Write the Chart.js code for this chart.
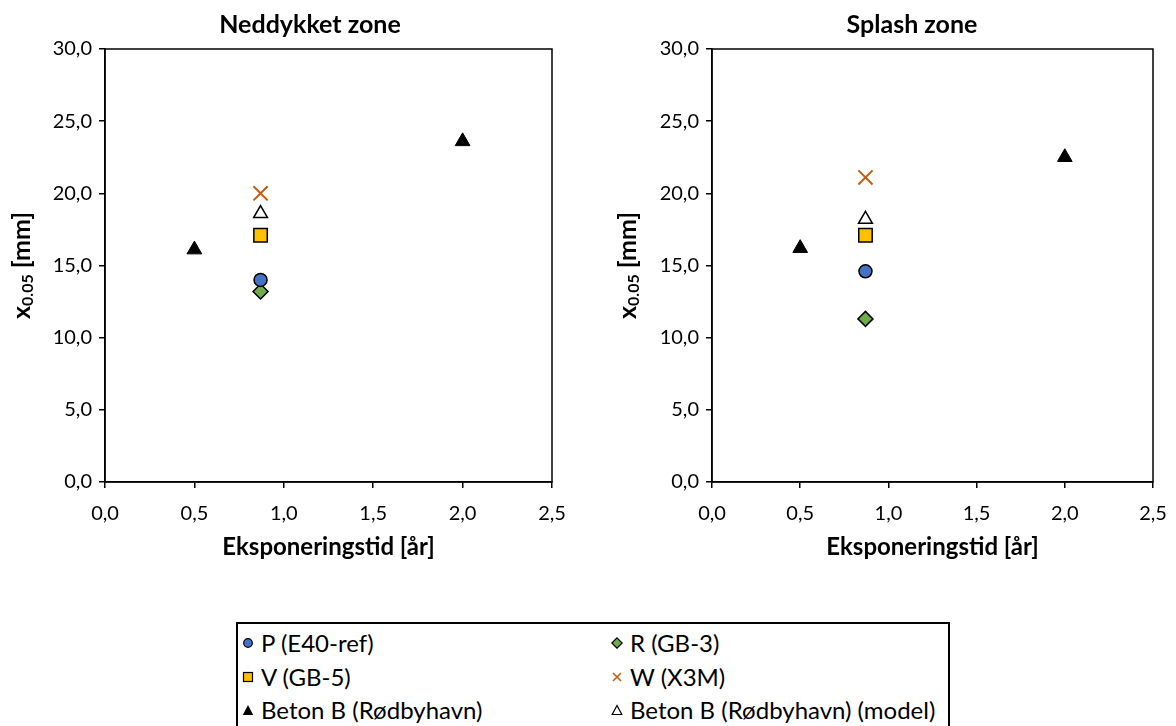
<!DOCTYPE html>
<html>
<head>
<meta charset="utf-8">
<script src="https://cdn.jsdelivr.net/npm/chart.js@4.4.0/dist/chart.umd.min.js"></script>
<style>
  html, body { margin: 0; padding: 0; background: #fff; overflow: hidden; }
  #wrap { position: relative; width: 1176px; height: 726px; overflow: hidden; }
  canvas { position: absolute; top: 0; }
  #venstre { left: 0; }
  #hoyre { left: 604px; }
  #legend { position: absolute; left: 236px; top: 622px; width: 714px; height: 120px;
            border: 2px solid #000; box-sizing: border-box; font-family: Lato, "Open Sans", sans-serif;
            font-size: 24px; color: #000; }
  .item { position: absolute; height: 28px; line-height: 28px; white-space: nowrap; }
  .item svg { position: absolute; left: 0; top: 8px; }
  .item span { position: absolute; left: 19px; }
</style>
</head>
<body>
<div id="wrap">
  <canvas id="venstre" width="620" height="562"></canvas>
  <canvas id="hoyre" width="616" height="562"></canvas>
  <div id="legend"></div>
</div>
<script>
// eksponeringstid [år]
var tidLab = [0.87];
var tidBetonB = [0.5, 2.0];
var tidModel = [0.87];

// x0.05 [mm] - neddykket zone
var nedP = [14.0];
var nedR = [13.2];
var nedV = [17.1];
var nedW = [20.0];
var nedBetonB = [16.1, 23.6];
var nedModel = [18.6];

// x0.05 [mm] - splash zone
var splP = [14.6];
var splR = [11.3];
var splV = [17.1];
var splW = [21.1];
var splBetonB = [16.2, 22.5];
var splModel = [18.2];

var serieNavn = ["P (E40-ref)", "R (GB-3)", "V (GB-5)", "W (X3M)", "Beton B (Rødbyhavn)", "Beton B (Rødbyhavn) (model)"];

var FONT = 'Lato, "Open Sans", sans-serif';

function punkter(xs, ys){
    var out = [];
    for (var i = 0; i < ys.length; i++){
        out.push({x: xs[i], y: ys[i]});
    }
    return out;
}

function fmt(value){
    return Number(value).toFixed(1).replace('.', ',');
}

// ramme rundt plotområdet + y-aksetittel med senket skrift
var rammePlugin = {
    id: 'ramme',
    beforeDatasetsDraw: function(chart){
        var a = chart.chartArea, ctx = chart.ctx;
        ctx.save();
        ctx.strokeStyle = '#000';
        ctx.lineWidth = 1.5;
        ctx.strokeRect(a.left, a.top, a.right - a.left, a.bottom - a.top);
        ctx.restore();
    },
    afterDraw: function(chart){
        var a = chart.chartArea, ctx = chart.ctx;
        var tx = chart.options.yTitleX;
        var cy = (a.top + a.bottom) / 2;
        ctx.save();
        ctx.translate(tx, cy);
        ctx.rotate(-Math.PI / 2);
        ctx.fillStyle = '#000';
        ctx.textBaseline = 'middle';
        var stor = 'bold 25px ' + FONT, liten = 'bold 16px ' + FONT;
        ctx.font = stor; var w1 = ctx.measureText('x').width;
        ctx.font = liten; var w2 = ctx.measureText('0.05').width;
        ctx.font = stor; var w3 = ctx.measureText(' [mm]').width;
        var x0 = -(w1 + w2 + w3) / 2;
        ctx.textAlign = 'left';
        ctx.font = stor; ctx.fillText('x', x0, 0);
        ctx.font = liten; ctx.fillText('0.05', x0 + w1, 6);
        ctx.font = stor; ctx.fillText(' [mm]', x0 + w1 + w2, 0);
        ctx.restore();
    }
};

function lagDatasett(p, r, v, w, b, m){
    return [
        {label: serieNavn[0], data: punkter(tidLab, p), pointStyle: 'circle', pointRadius: 6.5,
         backgroundColor: '#4472C4', borderColor: '#000', pointBorderWidth: 1.5},
        {label: serieNavn[1], data: punkter(tidLab, r), pointStyle: 'rectRot', pointRadius: 7.5,
         backgroundColor: '#70AD47', borderColor: '#000', pointBorderWidth: 1.5},
        {label: serieNavn[2], data: punkter(tidLab, v), pointStyle: 'rect', pointRadius: 9.5,
         backgroundColor: '#FFC000', borderColor: '#000', pointBorderWidth: 1.5},
        {label: serieNavn[3], data: punkter(tidLab, w), pointStyle: 'crossRot', pointRadius: 10,
         backgroundColor: '#C55A11', borderColor: '#C55A11', pointBorderWidth: 2},
        {label: serieNavn[4], data: punkter(tidBetonB, b), pointStyle: 'triangle', pointRadius: 8.5,
         backgroundColor: '#000', borderColor: '#000', pointBorderWidth: 1},
        {label: serieNavn[5], data: punkter(tidModel, m), pointStyle: 'triangle', pointRadius: 8,
         backgroundColor: '#fff', borderColor: '#000', pointBorderWidth: 1.5}
    ];
}

function initChart(id, tittel, datasett, yBredde, hoyreBredde, yTitleX){
    return new Chart(document.getElementById(id), {
        type: 'scatter',
        data: { datasets: datasett },
        plugins: [rammePlugin],
        options: {
            responsive: false,
            animation: false,
            devicePixelRatio: 1,
            yTitleX: yTitleX,
            layout: { padding: 0 },
            plugins: {
                legend: { display: false },
                tooltip: { enabled: false },
                title: {
                    display: true,
                    text: tittel,
                    color: '#000',
                    font: { family: FONT, size: 25, weight: 'bold' },
                    padding: { top: 10, bottom: 9 }
                }
            },
            scales: {
                x: {
                    type: 'linear',
                    min: 0, max: 2.5,
                    ticks: { stepSize: 0.5, callback: fmt, color: '#000', padding: 14,
                             font: { family: FONT, size: 20 } },
                    grid: { display: true, drawOnChartArea: false, drawTicks: true, tickLength: 6,
                            color: '#000', lineWidth: 1.5 },
                    border: { color: '#000', width: 1.5 },
                    title: { display: true, text: 'Eksponeringstid [år]', color: '#000',
                             font: { family: FONT, size: 24, weight: 'bold' }, padding: 0 },
                    afterFit: function(s){ s.height = 80; }
                },
                y: {
                    min: 0, max: 30,
                    ticks: { stepSize: 5, callback: fmt, color: '#000', padding: 7,
                             font: { family: FONT, size: 20 } },
                    grid: { display: true, drawOnChartArea: false, drawTicks: true, tickLength: 6,
                            color: '#000', lineWidth: 1.5 },
                    border: { color: '#000', width: 1.5 },
                    afterFit: function(s){ s.width = yBredde; }
                },
                // tom akse til høyre, bare for å holde plass
                yTom: {
                    position: 'right',
                    min: 0, max: 30,
                    ticks: { display: false },
                    grid: { display: false },
                    border: { display: false },
                    afterFit: function(s){ s.width = hoyreBredde; }
                }
            }
        }
    });
}

function symbol(i){
    var s = '<svg width="12" height="12" viewBox="0 0 12 12">';
    if (i == 0) s += '<circle cx="6" cy="6" r="4.3" fill="#4472C4" stroke="#000" stroke-width="1.2"/>';
    if (i == 1) s += '<polygon points="6,0.8 11.2,6 6,11.2 0.8,6" fill="#70AD47" stroke="#000" stroke-width="1.2"/>';
    if (i == 2) s += '<rect x="1.5" y="1.5" width="9" height="9" fill="#FFC000" stroke="#000" stroke-width="1.2"/>';
    if (i == 3) s += '<path d="M2,2 L10,10 M10,2 L2,10" stroke="#C55A11" stroke-width="1.6"/>';
    if (i == 4) s += '<polygon points="6,1 11.2,11 0.8,11" fill="#000"/>';
    if (i == 5) s += '<polygon points="6,1.5 10.8,10.5 1.2,10.5" fill="#fff" stroke="#000" stroke-width="1.2"/>';
    return s + '</svg>';
}

function initLegend(){
    var rader = [5, 39, 72];
    var kolonner = [4, 373];
    var html = '';
    for (var i = 0; i < serieNavn.length; i++){
        var top = rader[Math.floor(i / 2)], left = kolonner[i % 2];
        html += '<div class="item" style="top:' + top + 'px;left:' + left + 'px">' + symbol(i) +
                '<span>' + serieNavn[i] + '</span></div>';
    }
    document.getElementById('legend').innerHTML = html;
}

initChart('venstre', 'Neddykket zone', lagDatasett(nedP, nedR, nedV, nedW, nedBetonB, nedModel), 105, 68, 22);
initChart('hoyre', 'Splash zone', lagDatasett(splP, splR, splV, splW, splBetonB, splModel), 108, 67, 24);
initLegend();
</script>
</body>
</html>
